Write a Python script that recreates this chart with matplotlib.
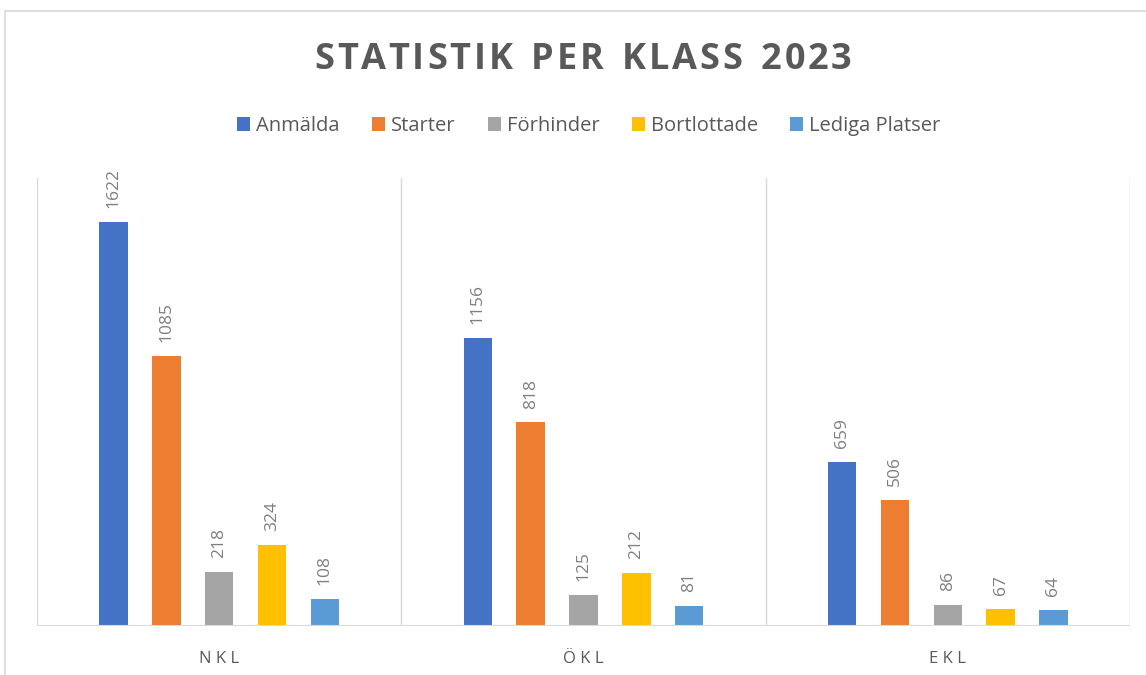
import matplotlib.pyplot as plt
from matplotlib.patches import Rectangle
import numpy as np

categories = ['NKL', 'ÖKL', 'EKL']
series = ['Anmälda', 'Starter', 'Förhinder', 'Bortlottade', 'Lediga Platser']
anmalda = [1622, 1156, 659]
starter = [1085, 818, 506]
forhinder = [218, 125, 86]
bortlottade = [324, 212, 67]
lediga = [108, 81, 64]
colors = ['#4472C4', '#ED7D31', '#A5A5A5', '#FFC000', '#5B9BD5']

values = [anmalda, starter, forhinder, bortlottade, lediga]

plt.rcParams['font.family'] = ['Open Sans', 'DejaVu Sans']


def tracked_text(fig, xc, y, s, tracking, **kw):
    # draw a string char by char with extra spacing (in pixels), centred on xc
    r = fig.canvas.get_renderer()
    widths = []
    for ch in s:
        t = fig.text(0, 0, ch if ch != ' ' else 'n', **kw)
        widths.append(t.get_window_extent(r).width * (0.55 if ch == ' ' else 1))
        t.remove()
    total = sum(widths) + tracking * (len(s) - 1)
    W = fig.get_figwidth() * fig.dpi
    xp = xc * W - total / 2
    for ch, w in zip(s, widths):
        if ch != ' ':
            fig.text(xp / W, y, ch, ha='left', va='center', **kw)
        xp += w + tracking


fig = plt.figure(figsize=(11.46, 6.75), dpi=100)
# chart border
fig.patches.append(Rectangle((5 / 1146, -0.01), 1.2, (675 - 11) / 675 + 0.01,
                             transform=fig.transFigure, fill=False,
                             edgecolor='#d9d9d9', linewidth=1.2))

ax = fig.add_axes((37 / 1146, 49 / 675, (1130 - 37) / 1146, (626 - 178) / 675))
x = np.arange(len(categories))
step = 0.145
width = 0.078
for i, (name, vals, col) in enumerate(zip(series, values, colors)):
    pos = x + (i - 2) * step
    bars = ax.bar(pos, vals, width=width, color=col, label=name, zorder=3)
    for b, v in zip(bars, vals):
        ax.annotate(str(v), (b.get_x() + b.get_width() / 2, v),
                    xytext=(0, 10), textcoords='offset points',
                    rotation=90, ha='center', va='bottom',
                    fontsize=12.5, color='#7f7f7f')

ax.set_xlim(-0.5, 2.5)
ax.set_ylim(0, 1800)
for b in [-0.5, 0.5, 1.5, 2.5]:
    ax.axvline(b, color='#d9d9d9', linewidth=1, zorder=1)
ax.axhline(0, color='#d9d9d9', linewidth=1.5, zorder=4)
for s in ax.spines.values():
    s.set_visible(False)
ax.set_yticks([])
ax.set_xticks(x)
ax.set_xticklabels([' '.join(c) for c in categories], fontsize=12, color='#595959')
ax.tick_params(axis='x', length=0, pad=18)

tracked_text(fig, 583 / 1146, 0.911, 'STATISTIK PER KLASS 2023', 2.8,
             fontsize=26, fontweight='bold', color='#595959')
ax.legend(loc='center', bbox_to_anchor=(0.505, (675 - 126 - 49) / 448), ncol=5,
          frameon=False, fontsize=14.5, labelcolor='#595959',
          handlelength=0.65, handleheight=0.65, handletextpad=0.3, columnspacing=1.6)

fig.savefig('out.png', dpi=100)
